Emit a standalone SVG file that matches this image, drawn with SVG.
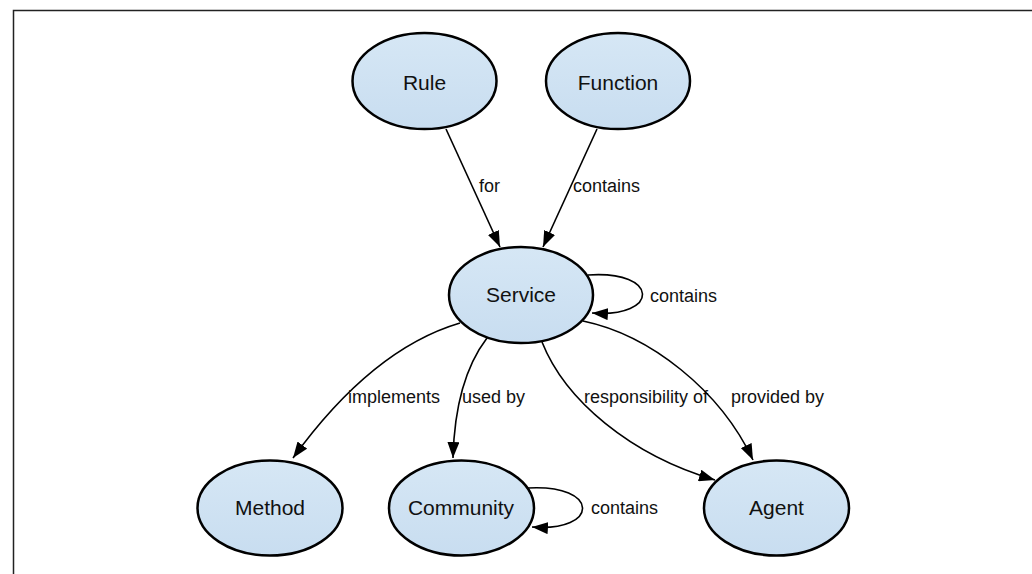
<svg xmlns="http://www.w3.org/2000/svg" width="1032" height="574" viewBox="0 0 1032 574">
<defs>
<linearGradient id="nodeFill" x1="0" y1="0" x2="0" y2="1">
<stop offset="0" stop-color="#d6e7f5"/>
<stop offset="1" stop-color="#c8ddf0"/>
</linearGradient>
<marker id="arrow" markerUnits="userSpaceOnUse" markerWidth="18" markerHeight="12" refX="16" refY="6" orient="auto">
<path d="M0,0 L16,6 L0,12 Z" fill="#000"/>
</marker>
<style>
.node ellipse { fill: url(#nodeFill); stroke: #000; stroke-width: 2.5; }
.node text { font-family: "Liberation Sans", Arial, sans-serif; font-size: 21px; text-anchor: middle; fill: #111; }
.edge { fill: none; stroke: #000; stroke-width: 1.6; marker-end: url(#arrow); }
.label { font-family: "Liberation Sans", Arial, sans-serif; font-size: 18px; fill: #111; }
</style>
</defs>
<rect x="0" y="0" width="1032" height="574" fill="#fff"/>
<path d="M13.5,574 L13.5,10.5 L1032,10.5" fill="none" stroke="#222" stroke-width="1.5"/>

<g id="connectors">
<path class="edge" d="M446,129 L500,247"/>
<text class="label" x="479" y="192">for</text>
<path class="edge" d="M597,129 L543,247"/>
<text class="label" x="573" y="192">contains</text>
<path class="edge" d="M588,275 C660,270 660,318 592,313"/>
<text class="label" x="650" y="302">contains</text>
<path class="edge" d="M460,323 Q372,349 293,458"/>
<text class="label" x="348" y="403">implements</text>
<path class="edge" d="M487,338 Q455,380 453,458"/>
<text class="label" x="462" y="403">used by</text>
<path class="edge" d="M542,342 C565,400 630,455 715,480"/>
<text class="label" x="584" y="403">responsibility of</text>
<path class="edge" d="M583,321 C650,335 720,390 753,460"/>
<text class="label" x="731" y="403">provided by</text>
<path class="edge" d="M528,488 C600,484 600,532 532,527"/>
<text class="label" x="591" y="514">contains</text>
</g>

<g id="node-rule" class="node">
<ellipse cx="424.5" cy="81" rx="72" ry="48"/>
<text x="424.5" y="90">Rule</text>
</g>
<g id="node-function" class="node">
<ellipse cx="618" cy="81" rx="72" ry="48"/>
<text x="618" y="90">Function</text>
</g>
<g id="node-service" class="node">
<ellipse cx="521" cy="295" rx="72" ry="48"/>
<text x="521" y="302">Service</text>
</g>
<g id="node-method" class="node">
<ellipse cx="270" cy="508" rx="72.5" ry="47.5"/>
<text x="270" y="515">Method</text>
</g>
<g id="node-community" class="node">
<ellipse cx="461.5" cy="508" rx="72.5" ry="47.5"/>
<text x="461" y="515">Community</text>
</g>
<g id="node-agent" class="node">
<ellipse cx="776.5" cy="508" rx="72.5" ry="47.5"/>
<text x="776.5" y="515">Agent</text>
</g>
</svg>
